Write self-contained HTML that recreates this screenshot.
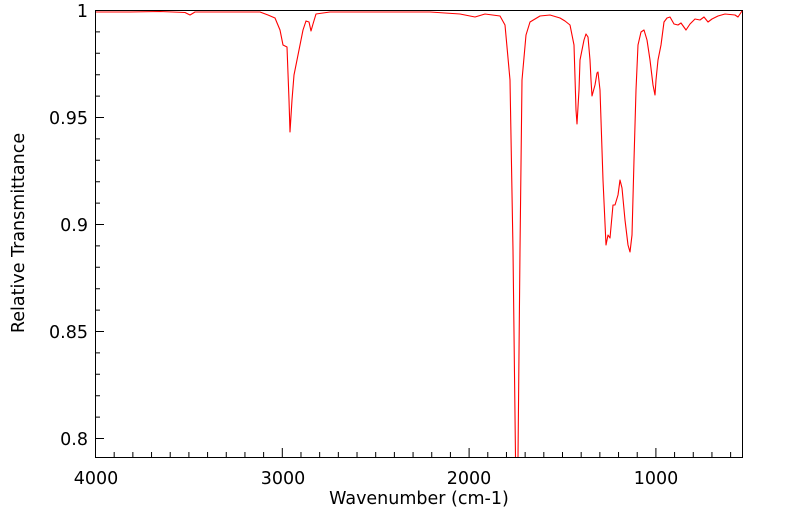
<!DOCTYPE html>
<html><head><meta charset="utf-8"><style>body{margin:0;background:#fff}svg{display:block}text{font-family:"DejaVu Sans","Liberation Sans",sans-serif;fill:#000}</style></head>
<body>
<svg width="799" height="516" viewBox="0 0 799 516">
<g stroke="#000" stroke-width="1">
<rect x="95.5" y="10.5" width="647" height="447" fill="none"/>
</g>
<g stroke="#000" stroke-width="1" id="ticks"></g>
<path fill="none" stroke="#f00" stroke-width="1.1" stroke-linejoin="round" d="M96,12 L130,12 L160,11.5 L185,12.5 L190,15 L195,12 L260,12 L268,15 L275,18 L280,30 L283,45 L287,47 L289,100 L290,132 L292,100 L294,75 L298,55 L303,30 L306,21 L309,22 L311,31 L313,24 L316,14 L330,12 L430,12 L460,14 L475,17 L485,14 L500,16 L505,25 L510,80 L513,250 L515.5,457 M518,457 L520,250 L522,80 L526,35 L530,22 L540,16 L550,15 L560,18 L565,21 L570,25 L574,45 L576,110 L577,124 L579,90 L580,60 L584,40 L586,34 L588,37 L590,60 L591,80 L592,96 L595,85 L597,73 L598,72 L600,90 L603,180 L606,245 L608,235 L610,238 L613,205 L615,205 L618,195 L620,180 L622,188 L625,220 L628,245 L630,252 L632,235 L634,160 L636,90 L638,45 L641,32 L644,30 L647,40 L650,60 L653,85 L655,95 L656,80 L658,60 L661,45 L664,22 L667,18 L670,17 L674,24 L678,25 L681,23 L686,30 L690,24 L695,19 L700,20 L704,17 L708,22 L712,19 L718,16 L725,14 L735,15 L738,17 L742,11"/>
<g font-size="17.5">
<text x="88" y="17" text-anchor="end">1</text>
<text x="88" y="124" text-anchor="end">0.95</text>
<text x="88" y="231" text-anchor="end">0.9</text>
<text x="88" y="338" text-anchor="end">0.85</text>
<text x="88" y="445" text-anchor="end">0.8</text>
<text x="96" y="484" text-anchor="middle">4000</text>
<text x="283" y="484" text-anchor="middle">3000</text>
<text x="469" y="484" text-anchor="middle">2000</text>
<text x="656" y="484" text-anchor="middle">1000</text>
<text x="419" y="504" text-anchor="middle">Wavenumber (cm-1)</text>
<text transform="translate(24,233) rotate(-90)" text-anchor="middle">Relative Transmittance</text>
</g>
<script>
var g=document.getElementById('ticks'),s='';
for(var i=0;i<=36;i++){var x=95.5+i*18.68;if(x>742)break;var L=(i%10==0)?9:5;s+='M'+x+',457 L'+x+','+(457-L)+' ';}
for(var j=0;j<=21;j++){var y=10.5+j*21.4;if(y>457)break;var L=(j%5==0)?9:5;s+='M95,'+y+' L'+(95+L)+','+y+' ';}
var p=document.createElementNS('http://www.w3.org/2000/svg','path');p.setAttribute('d',s);g.appendChild(p);
</script>
</svg>
</body></html>
